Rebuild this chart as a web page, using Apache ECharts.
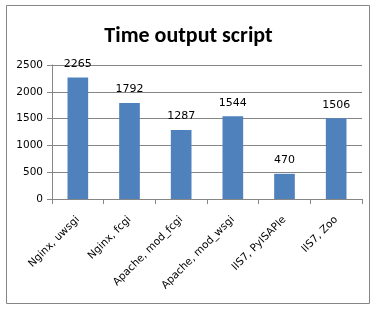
<!DOCTYPE html>
<html><head><meta charset="utf-8">
<script src="https://cdn.jsdelivr.net/npm/echarts@6/dist/echarts.min.js"></script>
<style>html,body{margin:0;padding:0;background:#fff}#c{width:377px;height:310px}</style>
</head><body><div id="c"></div>
<script>
const categories = ["Nginx, uwsgi", "Nginx, fcgi", "Apache, mod_fcgi", "Apache, mod_wsgi", "IIS7, PyISAPIe", "IIS7, Zoo"];
const values = [2265, 1792, 1287, 1544, 470, 1506];
const yTicks = [0, 500, 1000, 1500, 2000, 2500];
const titleText = "Time output script";

const chart = echarts.init(document.getElementById('c'), null, {renderer: 'canvas'});
const font = "Verdana, 'DejaVu Sans', sans-serif";
chart.setOption({
  animation: false,
  title: {text: titleText, left: 'center', top: 20, textStyle: {fontFamily: "Calibri, 'Open Sans', 'DejaVu Sans', sans-serif", fontSize: 22, fontWeight: 'bold', color: '#000'}},
  graphic: [{type: 'rect', shape: {x: 6.5, y: 5.5, width: 363, height: 298}, style: {fill: 'none', stroke: '#868686', lineWidth: 1}, silent: true}],
  grid: {left: 52, right: 15, top: 65, bottom: 111},
  xAxis: {
    type: 'category', data: categories,
    axisLine: {lineStyle: {color: '#868686'}},
    axisTick: {show: true, length: 5, alignWithLabel: false, lineStyle: {color: '#868686'}},
    axisLabel: {rotate: 45, interval: 0, fontSize: 10.5, fontFamily: font, color: '#000', margin: 19}
  },
  yAxis: {
    type: 'value', min: yTicks[0], max: yTicks[yTicks.length - 1], interval: 500,
    axisLine: {show: true, lineStyle: {color: '#868686'}},
    axisTick: {show: true, length: 5, lineStyle: {color: '#868686'}},
    splitLine: {lineStyle: {color: '#868686'}},
    axisLabel: {fontSize: 10.5, fontFamily: font, color: '#000', margin: 9, formatter: v => String(v)}
  },
  series: [{
    type: 'bar', data: values, barWidth: '40%',
    itemStyle: {color: '#4f81bd'},
    label: {show: true, position: 'top', distance: 8, fontSize: 11, fontFamily: font, color: '#000'}
  }]
});
</script></body></html>
